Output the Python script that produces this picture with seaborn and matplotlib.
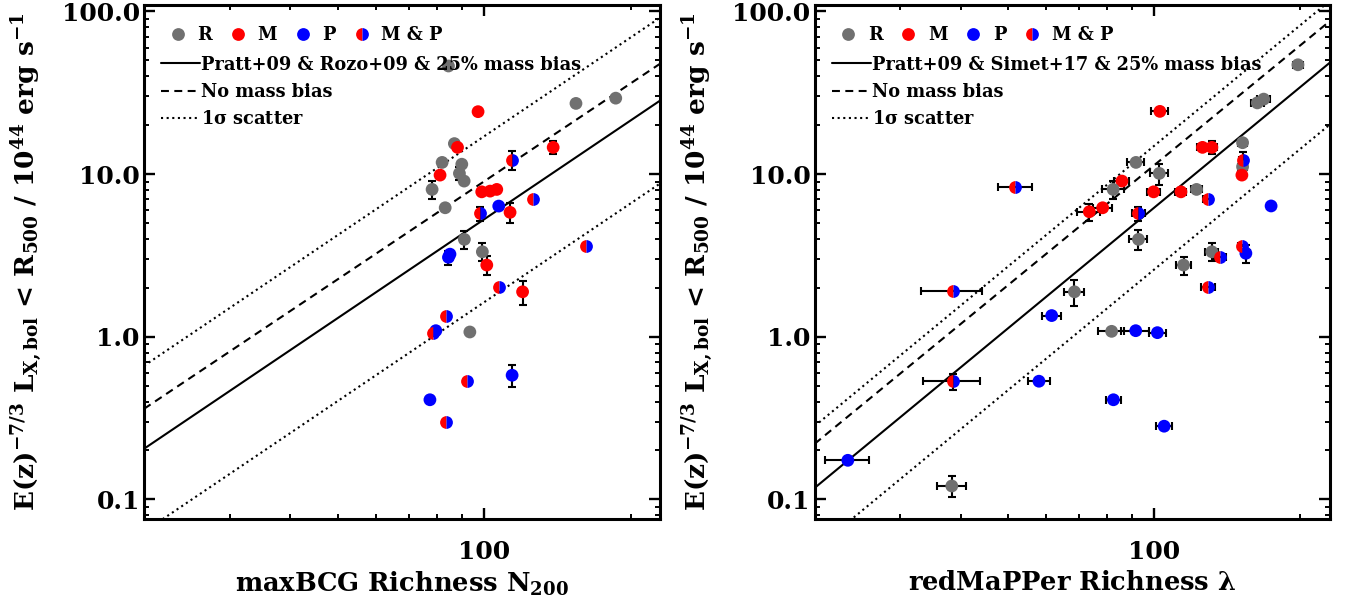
import numpy as np
import pandas as pd
import matplotlib
matplotlib.use("Agg")
import matplotlib.pyplot as plt
from matplotlib.lines import Line2D
from matplotlib.ticker import FuncFormatter, NullFormatter, LogLocator
import seaborn as sns

# ---------------- data ----------------
# left panel: maxBCG richness N200, luminosity, y-error, category
left_n200 = [84.5, 154.5, 186.5, 97.2, 86.9, 88.2, 138.7, 114.0, 82.0, 90.0,
             89.0, 91.0, 81.2, 78.2, 98.9, 102.9, 106.2, 83.2, 107.2, 126.2,
             98.1, 113.1, 91.1, 85.1, 84.5, 99.2, 101.3, 162.0, 107.3, 120.0,
             83.5, 79.6, 78.5, 93.5, 114.2, 92.3, 77.4, 83.5]
left_lum = [46.2, 27.2, 29.3, 24.2, 15.4, 14.6, 14.6, 12.2, 11.8, 11.5,
            10.1, 9.06, 9.86, 8.05, 7.78, 7.86, 8.05, 6.21, 6.36, 6.99,
            5.73, 5.82, 3.97, 3.22, 3.08, 3.33, 2.76, 3.6, 2.03, 1.89,
            1.35, 1.09, 1.06, 1.07, 0.58, 0.533, 0.41, 0.298]
left_lum_err = [0, 0, 0, 0, 0, 0, 1.4, 1.6, 0, 0,
                0.9, 0, 0, 1.0, 0, 0, 0, 0, 0, 0,
                0.58, 0.85, 0.53, 0, 0.3, 0.42, 0.36, 0, 0, 0.32,
                0, 0, 0, 0, 0.09, 0, 0, 0]
left_cat = ["R", "R", "R", "M", "R", "M", "M", "MP", "R", "R",
            "R", "R", "M", "R", "M", "M", "M", "R", "P", "MP",
            "MP", "M", "R", "P", "P", "R", "M", "MP", "MP", "M",
            "MP", "P", "MP", "R", "P", "MP", "P", "MP"]

# right panel: redMaPPer richness lambda, its error, luminosity, y-error, category
right_lam = [197.6, 168.0, 163.0, 102.7, 152.0, 125.7, 131.4, 152.0, 152.4, 151.5,
             91.7, 102.4, 51.8, 85.8, 82.3, 99.7, 113.5, 122.2, 128.8, 174.0,
             78.3, 73.5, 92.8, 92.8, 131.4, 136.7, 151.5, 154.4, 114.9, 129.1,
             68.5, 38.6, 61.5, 81.7, 91.6, 101.5, 57.9, 38.6, 82.4, 104.8,
             23.4, 38.3]
right_lam_err = [4.8, 5.0, 5.0, 4.0, 3.0, 3.5, 3.5, 3.0, 3.0, 3.0,
                 3.7, 4.4, 4.2, 3.0, 4.2, 3.0, 3.0, 3.0, 3.0, 3.0,
                 3.5, 4.0, 3.0, 4.0, 4.0, 4.0, 3.0, 3.0, 4.0, 4.0,
                 3.3, 5.5, 2.8, 5.0, 6.0, 4.0, 3.0, 5.2, 3.0, 3.8,
                 2.45, 2.65]
right_lum = [47.0, 28.9, 27.4, 24.3, 15.6, 14.6, 14.6, 11.1, 12.2, 9.86,
             11.8, 10.1, 8.38, 9.06, 8.05, 7.78, 7.78, 8.05, 6.99, 6.37,
             6.21, 5.87, 5.73, 3.97, 3.33, 3.08, 3.61, 3.26, 2.76, 2.03,
             1.89, 1.92, 1.35, 1.08, 1.09, 1.06, 0.533, 0.531, 0.41, 0.282,
             0.174, 0.121]
right_lum_err = [0, 0, 0, 0, 0, 0, 1.3, 0, 1.5, 0,
                 0, 1.5, 0, 0, 1.0, 0, 0, 0, 0, 0,
                 0, 0.7, 0.55, 0.55, 0.42, 0, 0, 0.42, 0.35, 0,
                 0.35, 0, 0, 0, 0, 0, 0, 0.06, 0, 0,
                 0, 0.018]
right_cat = ["R", "R", "R", "M", "R", "M", "M", "R", "MP", "M",
             "R", "R", "MP", "M", "R", "M", "M", "R", "MP", "P",
             "M", "M", "MP", "R", "R", "MP", "MP", "P", "R", "MP",
             "R", "MP", "P", "R", "P", "P", "P", "MP", "P", "P",
             "P", "R"]

# model lines: values at richness 20 and 230
line_x = [20, 230]
left_solid = [0.2048, 28.3]
left_dashed = [0.3605, 47.7]
left_dot_hi = [0.663, 91.6]
left_dot_lo = [0.0633, 8.75]
right_solid = [0.1178, 48.5]
right_dashed = [0.220, 87.3]
right_dot_hi = [0.2826, 116.4]
right_dot_lo = [0.0491, 20.2]

legend_labels = ["R", "M", "P", "M & P"]
left_line_labels = ["Pratt+09 & Rozo+09 & 25% mass bias", "No mass bias", r"1$\sigma$ scatter"]
right_line_labels = ["Pratt+09 & Simet+17 & 25% mass bias", "No mass bias", r"1$\sigma$ scatter"]

# ---------------- style ----------------
sns.set_theme(style="ticks")
plt.rcParams["font.family"] = ["DejaVu Serif", "DejaVu Sans"]
plt.rcParams["font.weight"] = "bold"
plt.rcParams["mathtext.fontset"] = "dejavuserif"
plt.rcParams["mathtext.default"] = "bf"
plt.rcParams["text.color"] = "black"
plt.rcParams["axes.labelcolor"] = "black"
plt.rcParams["xtick.color"] = "black"
plt.rcParams["ytick.color"] = "black"

GRAY = "#707070"
RED = "#ff0000"
BLUE = "#0000ff"
palette = {"R": GRAY, "M": RED, "P": BLUE}
MS = 9.2
DASH = (3.8, 2.6)
DOT = (1.0, 1.7)
LW = 1.5
LEG_FS = 12.8

fig = plt.figure(figsize=(13.52, 6.10), dpi=100)
ax1 = fig.add_axes([0.1065, 0.1487, 0.3817, 0.8436])
ax2 = fig.add_axes([0.6026, 0.1487, 0.3811, 0.8436])


def draw_panel(ax, x, y, yerr, cat, xerr, lines, line_labels, xlabel):
    df = pd.DataFrame({"x": x, "y": y, "yerr": yerr, "cat": cat})
    if xerr is not None:
        df["xerr"] = xerr
    # model lines
    solid, dashed, hi, lo = lines
    ax.plot(line_x, solid, color="black", lw=LW, zorder=1)
    ax.plot(line_x, dashed, color="black", lw=LW, dashes=DASH, zorder=1)
    ax.plot(line_x, hi, color="black", lw=LW, dashes=DOT, zorder=1)
    ax.plot(line_x, lo, color="black", lw=LW, dashes=DOT, zorder=1)
    # error bars
    eb = df if "xerr" in df else df[df["yerr"] > 0]
    ax.errorbar(eb["x"], eb["y"], yerr=eb["yerr"],
                xerr=eb["xerr"] if "xerr" in eb else None,
                fmt="none", ecolor="black", elinewidth=1.5, capsize=2.6,
                capthick=1.5, zorder=2)
    # points
    single = df[df["cat"] != "MP"]
    sns.scatterplot(data=single, x="x", y="y", hue="cat", palette=palette,
                    s=MS ** 2, linewidth=0, legend=False, ax=ax, zorder=3)
    mp = df[df["cat"] == "MP"]
    ax.plot(mp["x"], mp["y"], ls="none", marker="o", markersize=MS,
            fillstyle="left", markerfacecolor=RED, markerfacecoloralt=BLUE,
            markeredgewidth=0, zorder=3)

    ax.set_xscale("log")
    ax.set_yscale("log")
    ax.set_xlim(20, 230)
    ax.set_ylim(0.0755, 110)
    ax.xaxis.set_major_locator(LogLocator(base=10))
    ax.xaxis.set_minor_locator(LogLocator(base=10, subs=np.arange(2, 10)))
    ax.xaxis.set_major_formatter(FuncFormatter(lambda v, p: f"{v:g}"))
    ax.xaxis.set_minor_formatter(NullFormatter())
    ax.yaxis.set_major_formatter(FuncFormatter(lambda v, p: f"{v:.1f}"))
    ax.yaxis.set_minor_formatter(NullFormatter())
    ax.tick_params(which="both", direction="in", top=True, right=True,
                   labelsize=18, color="black", labelcolor="black")
    ax.tick_params(which="major", length=7.7, width=1.7)
    ax.tick_params(which="minor", length=3.8, width=1.4)
    ax.tick_params(axis="x", which="major", pad=15)
    ax.tick_params(axis="y", which="major", pad=3)
    for s in ax.spines.values():
        s.set_linewidth(2.2)
        s.set_color("black")
    ax.set_xlabel(xlabel, fontsize=18.5, fontweight="bold", color="black", labelpad=4)
    ax.set_ylabel(r"E(z)$^{-7/3}$ L$_{X,bol}$ < R$_{500}$ / 10$^{44}$ erg s$^{-1}$",
                  fontsize=19, fontweight="bold", color="black", labelpad=12)

    # legends
    mk = [Line2D([], [], ls="none", marker="o", markersize=MS, color=c, mew=0)
          for c in (GRAY, RED, BLUE)]
    mk.append(Line2D([], [], ls="none", marker="o", markersize=MS, fillstyle="left",
                     markerfacecolor=RED, markerfacecoloralt=BLUE, mew=0))
    leg1 = ax.legend(mk, legend_labels, loc="center left", bbox_to_anchor=(0.048, 0.941),
                     ncol=4, frameon=False, prop={"size": LEG_FS, "weight": "bold"},
                     handlelength=1.0, handletextpad=0.6, columnspacing=0.95,
                     borderpad=0, borderaxespad=0, labelcolor="black")
    ax.add_artist(leg1)
    ln = [Line2D([], [], color="black", lw=LW),
          Line2D([], [], color="black", lw=LW, dashes=DASH),
          Line2D([], [], color="black", lw=LW, dashes=DOT)]
    ax.legend(ln, line_labels, loc="upper left", bbox_to_anchor=(0.033, 0.901),
              frameon=False, prop={"size": LEG_FS, "weight": "bold"},
              handlelength=2.2, handletextpad=0.05, labelcolor="black",
              labelspacing=0.53, borderpad=0, borderaxespad=0)


draw_panel(ax1, left_n200, left_lum, left_lum_err, left_cat, None,
           (left_solid, left_dashed, left_dot_hi, left_dot_lo), left_line_labels,
           r"maxBCG Richness N$_{200}$")
draw_panel(ax2, right_lam, right_lum, right_lum_err, right_cat, right_lam_err,
           (right_solid, right_dashed, right_dot_hi, right_dot_lo), right_line_labels,
           r"redMaPPer Richness $\lambda$")

fig.savefig("out.png", dpi=100)
